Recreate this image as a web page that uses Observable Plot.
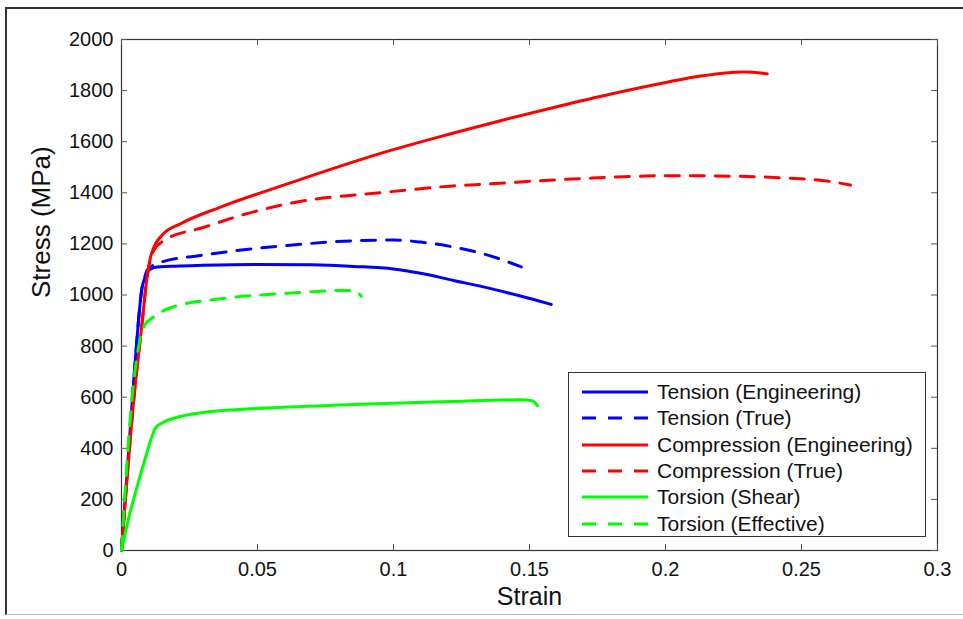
<!DOCTYPE html>
<html>
<head>
<meta charset="utf-8">
<script src="https://cdn.jsdelivr.net/npm/d3@7"></script>
<script src="https://cdn.jsdelivr.net/npm/@observablehq/plot@0.6"></script>
<style>
  body { margin: 0; background: #fff; }
  #wrap { position: relative; width: 963px; height: 619px; overflow: hidden; background: #fff;
          font-family: "Liberation Sans", Arial, sans-serif; }
  #border { position: absolute; left: 5px; top: 7px; width: 980px; height: 605px;
            border-left: 2px solid #333; border-top: 2px solid #333; border-bottom: 1px solid #bbb; }
  #chart { position: absolute; left: 0; top: 0; }
  #legend { position: absolute; left: 568px; top: 372px; width: 358px; height: 165px;
            border: 1px solid #333; background: #fff; box-sizing: border-box; }
  .row { position: absolute; left: 0; height: 26px; display: flex; align-items: center;
         font-size: 21px; color: #111; white-space: nowrap; }
  .row svg { margin-left: 13px; margin-right: 9px; }
</style>
</head>
<body>
<div id="wrap">
  <div id="border"></div>
  <div id="chart"></div>
  <div id="legend"></div>
</div>
<script>
// ---- Data ----
const seriesNames = ["Tension (Engineering)", "Tension (True)", "Compression (Engineering)",
                     "Compression (True)", "Torsion (Shear)", "Torsion (Effective)"];
const seriesColors = ["#0000ff", "#0000ff", "#ff0000", "#ff0000", "#00ff00", "#00ff00"];
const seriesDashed = [false, true, false, true, false, true];

const tensionEngStrain = [0, 0.0045, 0.0076, 0.0085, 0.0095, 0.012, 0.02, 0.03, 0.0487, 0.07, 0.0854, 0.100, 0.110, 0.122, 0.135, 0.147, 0.158];
const tensionEngStress = [0, 665, 1031, 1065, 1090, 1108, 1113, 1116, 1119, 1118, 1112, 1102, 1085, 1057, 1027, 995, 963];

const tensionTrueStrain = [0, 0.0045, 0.0076, 0.0085, 0.0095, 0.0137, 0.029, 0.041, 0.061, 0.085, 0.100, 0.110, 0.122, 0.135, 0.147];
const tensionTrueStress = [0, 665, 1031, 1068, 1098, 1125, 1155, 1172, 1194, 1212, 1215, 1207, 1188, 1155, 1110];

const compEngStrain = [0, 0.0045, 0.0075, 0.0094, 0.0105, 0.0119, 0.015, 0.0217, 0.0364, 0.061, 0.0977, 0.12, 0.14, 0.16, 0.18, 0.2006, 0.213, 0.2288, 0.2374];
const compEngStress = [0, 590, 884, 1070, 1140, 1187, 1235, 1279, 1344, 1435, 1562, 1628, 1684, 1737, 1787, 1833, 1857, 1873, 1866];

const compTrueStrain = [0, 0.0045, 0.0075, 0.0094, 0.0105, 0.0119, 0.0156, 0.0303, 0.045, 0.061, 0.0977, 0.122, 0.139, 0.153, 0.17, 0.185, 0.2006, 0.225, 0.24, 0.2496, 0.26, 0.268];
const compTrueStress = [0, 590, 884, 1070, 1135, 1175, 1213, 1265, 1315, 1357, 1403, 1427, 1437, 1447, 1456, 1463, 1467, 1465, 1460, 1455, 1445, 1430];

const torsShearStrain = [0, 0.0025, 0.006, 0.009, 0.011, 0.0125, 0.015, 0.02, 0.03, 0.05, 0.085, 0.122, 0.147, 0.151, 0.153];
const torsShearStress = [0, 120, 260, 370, 440, 480, 500, 520, 540, 556, 571, 583, 590, 586, 566];

const torsEffStrain = [0, 0.0039, 0.006, 0.0088, 0.0107, 0.014, 0.018, 0.0364, 0.061, 0.083, 0.086, 0.0882];
const torsEffStress = [0, 600, 780, 887, 905, 930, 950, 985, 1007, 1018, 1015, 995];

const xTicks = [0, 0.05, 0.1, 0.15, 0.2, 0.25, 0.3];
const xTickLabels = ["0", "0.05", "0.1", "0.15", "0.2", "0.25", "0.3"];
const yTicks = [0, 200, 400, 600, 800, 1000, 1200, 1400, 1600, 1800, 2000];
const yTickLabels = ["0", "200", "400", "600", "800", "1000", "1200", "1400", "1600", "1800", "2000"];
const xLabel = "Strain";
const yLabel = "Stress (MPa)";

// ---- Build tables ----
const strainArrays = [tensionEngStrain, tensionTrueStrain, compEngStrain, compTrueStrain, torsShearStrain, torsEffStrain];
const stressArrays = [tensionEngStress, tensionTrueStress, compEngStress, compTrueStress, torsShearStress, torsEffStress];
const tables = strainArrays.map((xs, k) => xs.map((s, i) => ({strain: s, stress: stressArrays[k][i], series: seriesNames[k]})));

const W = 963, H = 619, mL = 121, mR = 26, mT = 39, mB = 69;
const pW = W - mL - mR, pH = H - mT - mB;
const dash = "14,11";

const lineMarks = tables.map((rows, k) => Plot.line(rows, {
  x: "strain", y: "stress", stroke: seriesColors[k], strokeWidth: 3,
  strokeDasharray: seriesDashed[k] ? dash : null, curve: "monotone-x"
}));

const chart = Plot.plot({
  width: W, height: H,
  marginLeft: mL, marginRight: mR, marginTop: mT, marginBottom: mB,
  style: {fontFamily: '"Liberation Sans", Arial, sans-serif', fontSize: "20px", color: "#111", background: "transparent"},
  x: {domain: [0, 0.3]},
  y: {domain: [0, 2000]},
  marks: [
    Plot.frame({stroke: "#333", strokeWidth: 1.2}),
    Plot.tickX(xTicks, {x: d => d, insetTop: pH - 6, stroke: "#555"}),
    Plot.tickX(xTicks, {x: d => d, insetBottom: pH - 6, stroke: "#555"}),
    Plot.tickY(yTicks, {y: d => d, insetRight: pW - 6, stroke: "#555"}),
    Plot.tickY(yTicks, {y: d => d, insetLeft: pW - 6, stroke: "#555"}),
    Plot.axisX({ticks: xTicks, tickSize: 0, tickPadding: 11, label: null,
                tickFormat: d => xTickLabels[xTicks.indexOf(d)]}),
    Plot.axisY({ticks: yTicks, tickSize: 0, tickPadding: 8, label: null,
                tickFormat: d => yTickLabels[yTicks.indexOf(d)]}),
    ...lineMarks,
    Plot.text([xLabel], {frameAnchor: "bottom", dy: 54, text: d => d, fontSize: 25, fill: "#111"}),
    Plot.text([yLabel], {frameAnchor: "left", dx: -80, dy: 3, rotate: -90, text: d => d, fontSize: 26, fill: "#111"})
  ]
});
document.getElementById("chart").appendChild(chart);

// ---- Legend ----
const legend = document.getElementById("legend");
seriesNames.forEach((name, k) => {
  const row = document.createElement("div");
  row.className = "row";
  row.style.top = (6 + 26.3 * k) + "px";
  const ns = "http://www.w3.org/2000/svg";
  const svg = document.createElementNS(ns, "svg");
  svg.setAttribute("width", 66); svg.setAttribute("height", 10);
  const ln = document.createElementNS(ns, "line");
  ln.setAttribute("x1", 0); ln.setAttribute("x2", 66);
  ln.setAttribute("y1", 5); ln.setAttribute("y2", 5);
  ln.setAttribute("stroke", seriesColors[k]); ln.setAttribute("stroke-width", 3);
  if (seriesDashed[k]) ln.setAttribute("stroke-dasharray", "14,12");
  svg.appendChild(ln);
  row.appendChild(svg);
  const span = document.createElement("span");
  span.textContent = name;
  row.appendChild(span);
  legend.appendChild(row);
});
</script>
</body>
</html>
